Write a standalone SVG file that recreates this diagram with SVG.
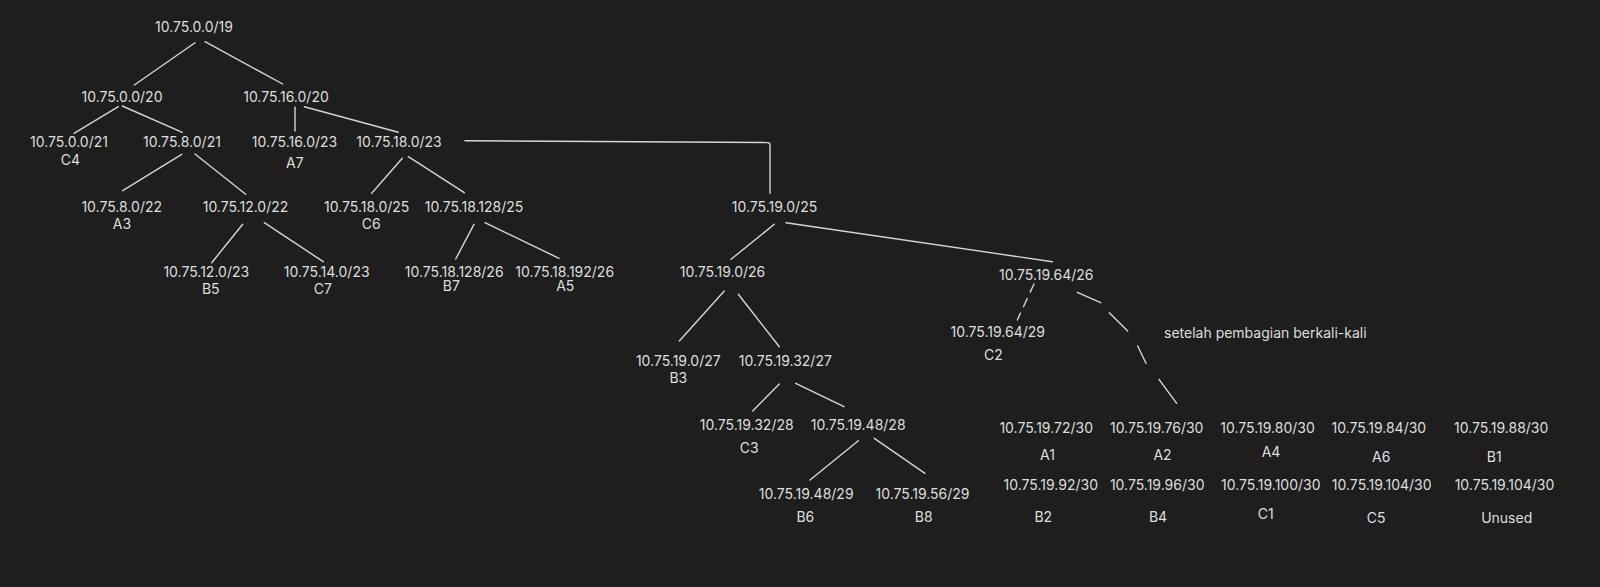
<svg xmlns="http://www.w3.org/2000/svg" width="1600" height="587" viewBox="0 0 1600 587">
<style>
text{font-family:Inter,"Liberation Sans",sans-serif;font-size:14px;fill:#dedede;text-anchor:middle}
.l{stroke:#d6d6d6;stroke-width:1.4;fill:none;stroke-linecap:round}
.d{stroke-dasharray:9 7}
.s{text-anchor:start}
</style>
<rect width="1600" height="587" fill="#1e1e1e"/>
<g id="connectors">
<line class="l" x1="195" y1="42.7" x2="134.3" y2="85"/>
<line class="l" x1="205" y1="41.7" x2="282.7" y2="84"/>
<line class="l" x1="118.3" y1="106.7" x2="74" y2="133.3"/>
<line class="l" x1="122.3" y1="106" x2="182.3" y2="132.3"/>
<line class="l" x1="295" y1="107.3" x2="295" y2="131"/>
<line class="l" x1="304.3" y1="106.7" x2="398.3" y2="132.3"/>
<line class="l" x1="181.7" y1="154.3" x2="122.7" y2="190.7"/>
<line class="l" x1="195" y1="154" x2="245.7" y2="194.3"/>
<line class="l" x1="242.7" y1="224.3" x2="211.7" y2="262.7"/>
<line class="l" x1="264.3" y1="222.7" x2="323.3" y2="261.7"/>
<line class="l" x1="402.3" y1="158.3" x2="371.7" y2="193.3"/>
<line class="l" x1="408.3" y1="156.7" x2="464.3" y2="192.7"/>
<line class="l" x1="474" y1="224.3" x2="455.7" y2="259"/>
<line class="l" x1="485" y1="222.7" x2="559" y2="258.3"/>
<path class="l" d="M465 140.7 L768 142.6 Q770 142.7 770 144.7 L770 193.3"/>
<line class="l" x1="774.3" y1="224.3" x2="731" y2="259.3"/>
<line class="l" x1="786" y1="222.7" x2="1052.3" y2="261.7"/>
<line class="l" x1="724.3" y1="291" x2="679.3" y2="341"/>
<line class="l" x1="738.3" y1="294.3" x2="779.3" y2="346.7"/>
<line class="l" x1="779.3" y1="384" x2="752.7" y2="411"/>
<line class="l" x1="795.7" y1="383.3" x2="844" y2="406.7"/>
<line class="l" x1="858.3" y1="440.7" x2="810" y2="480"/>
<line class="l" x1="874.3" y1="438.3" x2="925" y2="473.3"/>
<line class="l d" x1="1034" y1="284" x2="1017.3" y2="320"/>
<path class="l" d="M1077.3 292.3 L1100.7 302.7 M1109.3 312.7 L1127.7 331 M1137.7 346 L1146 363.3 M1159 379.3 L1176.7 403.3"/>
</g>
<g id="n-10.75.0.0-19"><text x="194" y="31.7">10.75.0.0/19</text></g>
<g id="n-10.75.0.0-20"><text x="122" y="102.3">10.75.0.0/20</text></g>
<g id="n-10.75.16.0-20"><text x="286" y="102.3">10.75.16.0/20</text></g>
<g id="n-10.75.0.0-21"><text x="69" y="147.3">10.75.0.0/21</text><text x="70.5" y="165">C4</text></g>
<g id="n-10.75.8.0-21"><text x="182" y="147.3">10.75.8.0/21</text></g>
<g id="n-10.75.16.0-23"><text x="294.5" y="147.3">10.75.16.0/23</text><text x="294.8" y="168.3">A7</text></g>
<g id="n-10.75.18.0-23"><text x="399" y="147.3">10.75.18.0/23</text></g>
<g id="n-10.75.8.0-22"><text x="121.7" y="212.3">10.75.8.0/22</text><text x="122" y="229.3">A3</text></g>
<g id="n-10.75.12.0-22"><text x="245.5" y="212.3">10.75.12.0/22</text></g>
<g id="n-10.75.12.0-23"><text x="206.3" y="277.3">10.75.12.0/23</text><text x="210.8" y="294">B5</text></g>
<g id="n-10.75.14.0-23"><text x="326.7" y="277.3">10.75.14.0/23</text><text x="322.8" y="294">C7</text></g>
<g id="n-10.75.18.0-25"><text x="366.7" y="212.3">10.75.18.0/25</text><text x="371.2" y="229.3">C6</text></g>
<g id="n-10.75.18.128-25"><text x="474" y="212.3">10.75.18.128/25</text></g>
<g id="n-10.75.18.128-26"><text x="454.2" y="277.3">10.75.18.128/26</text><text x="451.3" y="290.7">B7</text></g>
<g id="n-10.75.18.192-26"><text x="564.7" y="277.3">10.75.18.192/26</text><text x="565.3" y="290.7">A5</text></g>
<g id="n-10.75.19.0-25"><text x="774.5" y="211.7">10.75.19.0/25</text></g>
<g id="n-10.75.19.0-26"><text x="722.5" y="276.7">10.75.19.0/26</text></g>
<g id="n-10.75.19.64-26"><text x="1046.3" y="280">10.75.19.64/26</text></g>
<g id="n-10.75.19.64-29"><text x="997.8" y="336.7">10.75.19.64/29</text><text x="993.3" y="360">C2</text></g>
<g id="n-10.75.19.0-27"><text x="678.3" y="365.7">10.75.19.0/27</text><text x="678.3" y="383.3">B3</text></g>
<g id="n-10.75.19.32-27"><text x="785.3" y="365.7">10.75.19.32/27</text></g>
<g id="n-10.75.19.32-28"><text x="746.7" y="430">10.75.19.32/28</text><text x="749.2" y="452.7">C3</text></g>
<g id="n-10.75.19.48-28"><text x="858.2" y="430">10.75.19.48/28</text></g>
<g id="n-10.75.19.48-29"><text x="806.2" y="499">10.75.19.48/29</text><text x="805.3" y="522.3">B6</text></g>
<g id="n-10.75.19.56-29"><text x="922.5" y="499">10.75.19.56/29</text><text x="923.7" y="522.3">B8</text></g>
<g id="note"><text class="s" x="1164" y="338.3">setelah pembagian berkali-kali</text></g>
<g id="n-10.75.19.72-30"><text x="1046.2" y="433.3">10.75.19.72/30</text><text x="1047.5" y="460">A1</text></g>
<g id="n-10.75.19.76-30"><text x="1156.7" y="433.3">10.75.19.76/30</text><text x="1162.5" y="460">A2</text></g>
<g id="n-10.75.19.80-30"><text x="1267.5" y="433.3">10.75.19.80/30</text><text x="1271" y="456.7">A4</text></g>
<g id="n-10.75.19.84-30"><text x="1378.8" y="433.3">10.75.19.84/30</text><text x="1381.2" y="461.7">A6</text></g>
<g id="n-10.75.19.88-30"><text x="1501.2" y="433.3">10.75.19.88/30</text><text x="1494.2" y="461.7">B1</text></g>
<g id="n-10.75.19.92-30"><text x="1050.8" y="490">10.75.19.92/30</text><text x="1043.3" y="522.3">B2</text></g>
<g id="n-10.75.19.96-30"><text x="1157.2" y="490">10.75.19.96/30</text><text x="1158" y="522.3">B4</text></g>
<g id="n-10.75.19.100-30"><text x="1270.8" y="490">10.75.19.100/30</text><text x="1265.8" y="519">C1</text></g>
<g id="n-10.75.19.104-30-a"><text x="1381.7" y="490">10.75.19.104/30</text><text x="1376.2" y="523.3">C5</text></g>
<g id="n-10.75.19.104-30-b"><text x="1504.5" y="490">10.75.19.104/30</text><text x="1506.7" y="523.3">Unused</text></g>
</svg>
